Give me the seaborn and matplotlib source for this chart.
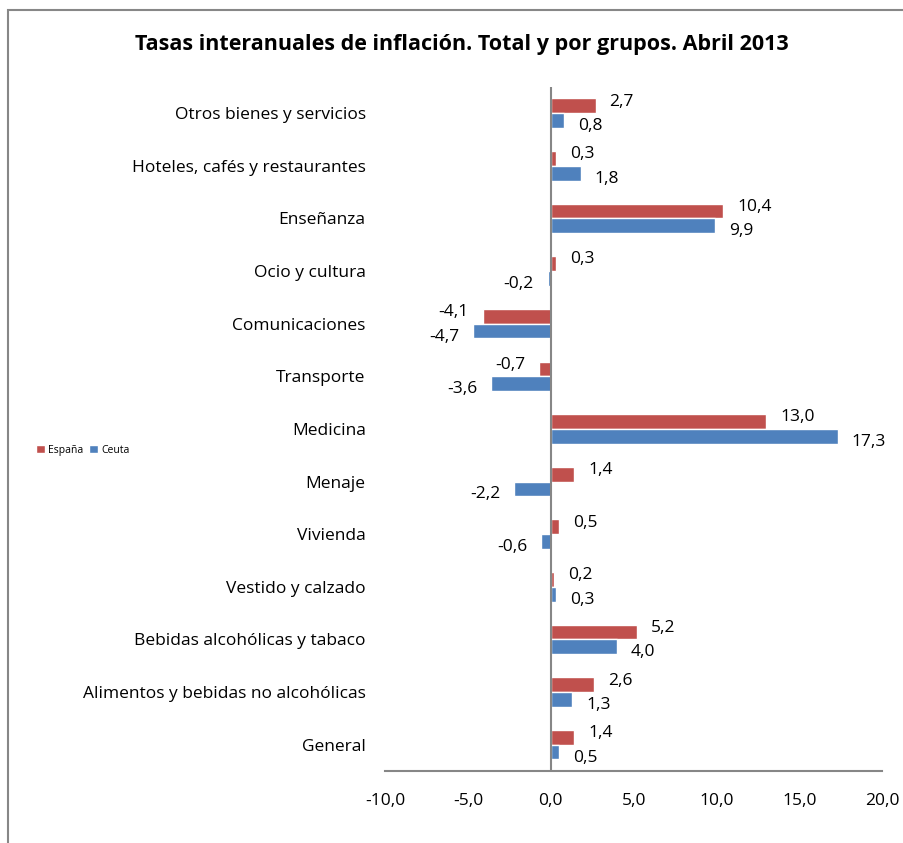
import matplotlib
matplotlib.use("Agg")
import matplotlib.pyplot as plt
import seaborn as sns
import pandas as pd
from matplotlib.patches import Rectangle, Patch

# categories from top to bottom as drawn
categorias = [
    "Otros bienes y servicios",
    "Hoteles, cafés y restaurantes",
    "Enseñanza",
    "Ocio y cultura",
    "Comunicaciones",
    "Transporte",
    "Medicina",
    "Menaje",
    "Vivienda",
    "Vestido y calzado",
    "Bebidas alcohólicas y tabaco",
    "Alimentos y bebidas no alcohólicas",
    "General",
]
espana = [2.7, 0.3, 10.4, 0.3, -4.1, -0.7, 13.0, 1.4, 0.5, 0.2, 5.2, 2.6, 1.4]
ceuta = [0.8, 1.8, 9.9, -0.2, -4.7, -3.6, 17.3, -2.2, -0.6, 0.3, 4.0, 1.3, 0.5]
series = ["España", "Ceuta"]
colores = ["#C0504D", "#4F81BD"]
xticks = [-10, -5, 0, 5, 10, 15, 20]

df = pd.DataFrame({
    "grupo": categorias * 2,
    "serie": [series[0]] * len(categorias) + [series[1]] * len(categorias),
    "valor": espana + ceuta,
})

sns.set_style("white")
plt.rcParams["font.family"] = ["Open Sans", "DejaVu Sans"]
plt.rcParams["text.color"] = "black"
plt.rcParams["xtick.color"] = "black"
plt.rcParams["ytick.color"] = "black"

fig = plt.figure(figsize=(9.04, 8.43), dpi=100)
ax = fig.add_axes([0.426, 0.0854, 0.55, 0.8116])

sns.barplot(data=df, y="grupo", x="valor", hue="serie", order=categorias,
            hue_order=series, palette=colores, width=0.56, orient="h",
            saturation=1, ax=ax, legend=False)

ax.set_xlim(-10, 20)
ax.set_ylim(len(categorias) - 0.5, -0.5)
ax.set_xticks(xticks)
ax.set_xticklabels([f"{t:.1f}".replace(".", ",") for t in xticks], fontsize=12.5)
ax.tick_params(axis="x", length=0, pad=16)
ax.tick_params(axis="y", length=0, pad=14, labelsize=12.5)
ax.set_xlabel("")
ax.set_ylabel("")
for s in ["top", "right", "left"]:
    ax.spines[s].set_visible(False)
ax.spines["bottom"].set_color("#868686")
ax.spines["bottom"].set_linewidth(1.5)
ax.axvline(0, color="#868686", lw=1.5, zorder=3)

# data labels
for cont, dy in zip(ax.containers, [-3, 4]):
    for bar in cont:
        v = bar.get_width()
        yc = bar.get_y() + bar.get_height() / 2
        txt = f"{v:.1f}".replace(".", ",")
        if v >= 0:
            ax.annotate(txt, (v, yc), xytext=(10, -dy), textcoords="offset points",
                        ha="left", va="center", fontsize=12.5)
        else:
            ax.annotate(txt, (v, yc), xytext=(-10, -dy), textcoords="offset points",
                        ha="right", va="center", fontsize=12.5)

fig.text(0.511, 0.947, "Tasas interanuales de inflación. Total y por grupos. Abril 2013",
         ha="center", va="center", fontsize=15.5, fontweight="bold")

handles = [Patch(facecolor=c, label=s) for c, s in zip(colores, series)]
fig.legend(handles=handles, loc="center left", bbox_to_anchor=(0.03, 0.466),
           ncol=2, frameon=False, fontsize=7.5, handlelength=0.8, handleheight=0.8,
           handletextpad=0.3, columnspacing=0.6)

# chart border
fig.patches.append(Rectangle((8 / 904, -0.1), 1.2, 1.1 - 10 / 843,
                             transform=fig.transFigure, fill=False,
                             edgecolor="#878787", lw=1.5))

fig.savefig("out.png", dpi=100, facecolor="white")
